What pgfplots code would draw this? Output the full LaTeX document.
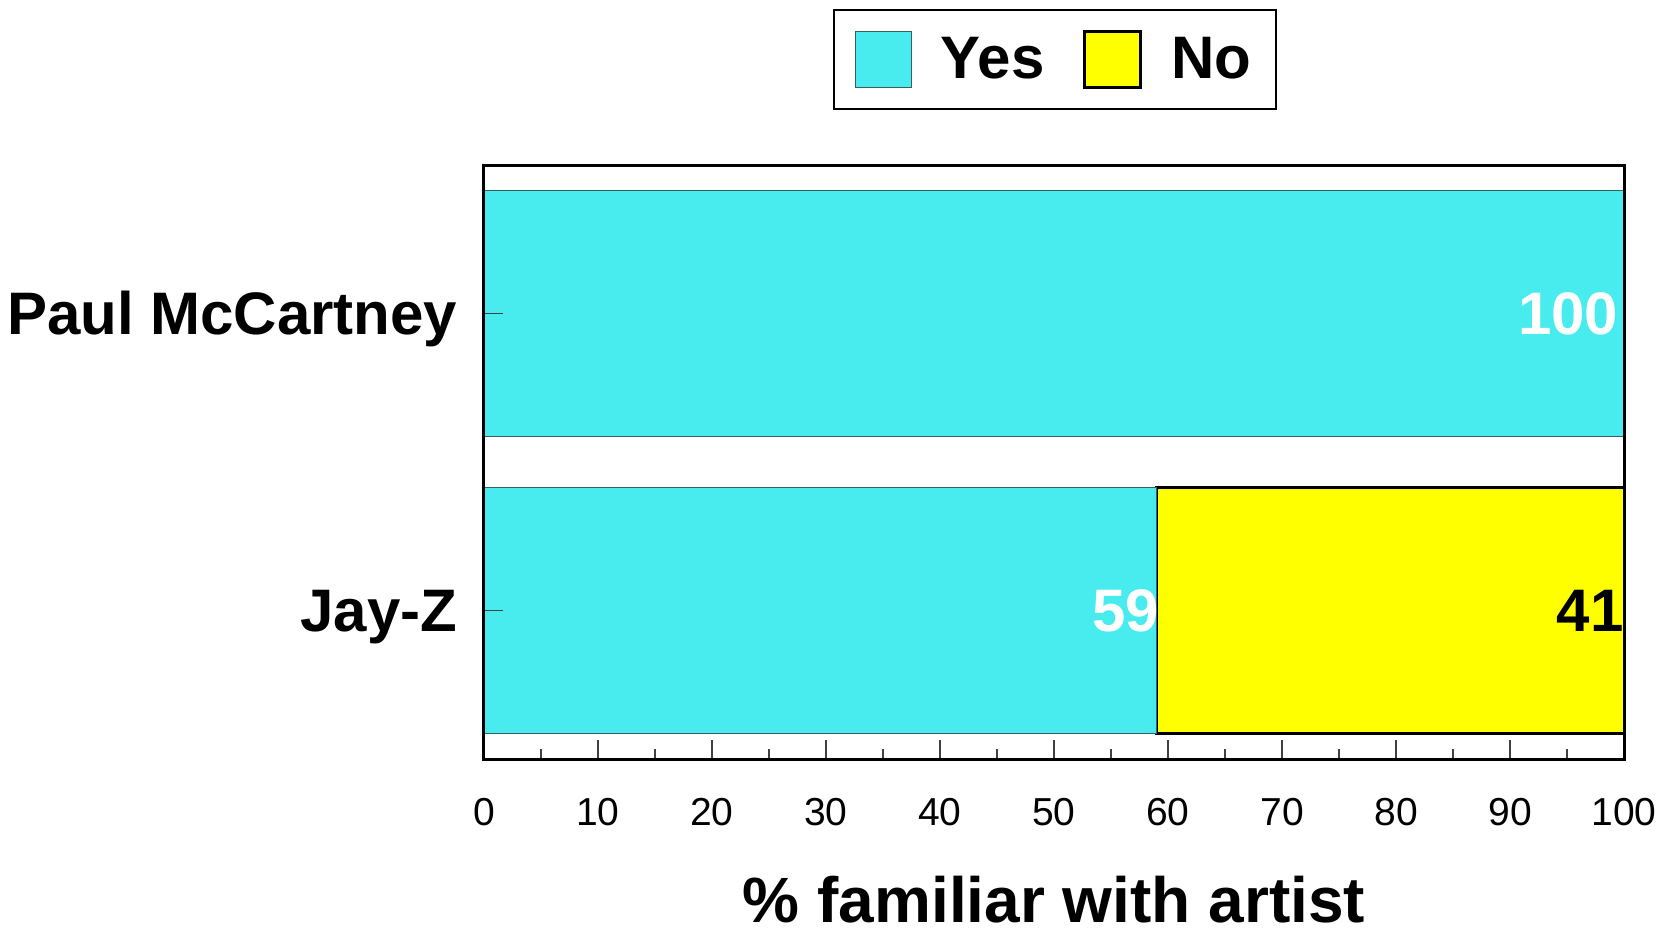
\documentclass[border=0pt]{standalone}
\usepackage{fontspec}
\setmainfont{Liberation Sans}
\usepackage{pgfplots}
\pgfplotsset{compat=1.18}

\definecolor{barcyan}{RGB}{72,235,238}
\definecolor{baredge}{RGB}{55,95,95}
\definecolor{baryellow}{RGB}{255,255,0}

\pgfplotsset{
  common frame/.style={
    at={(0,0)}, anchor=south west,
    scale only axis,
    width=570pt, height=297pt,
    xmin=0, xmax=100,
    ymin=-0.5, ymax=1.5,
  },
}

\begin{document}
\begin{tikzpicture}
\begin{axis}[
  common frame,
  xbar stacked,
  bar width=0.83,
  axis on top,
  axis line style={black, line width=1.5pt},
  xtick={0,10,...,100},
  minor x tick num=1,
  xtick pos=bottom,
  ytick={0,1},
  yticklabels={Jay-Z,{Paul McCartney\hspace{3.5pt}}},
  ytick pos=left,
  tick align=inside,
  major tick length=9.5pt,
  minor tick length=5pt,
  every tick/.style={black!75, line width=0.7pt},
  /pgf/number format/assume math mode=true,
  xticklabel style={font=\fontsize{19.5}{23}\selectfont, yshift=-16.2pt},
  yticklabel style={font=\bfseries\fontsize{30}{36}\selectfont, anchor=base east, yshift=-10.7pt, xshift=-9.8pt},
  xlabel={\% familiar with artist},
  xlabel style={font=\bfseries\fontsize{32}{38}\selectfont, at={(axis description cs:0.5,0)}, anchor=base, yshift=-81.5pt, text depth=0pt},
  legend columns=2,
  legend style={at={(0.5,1)}, anchor=south, yshift=27.5pt, xshift=0.5pt,
    draw=black, line width=1pt,
    font=\bfseries\fontsize{30}{36}\selectfont,
    inner xsep=10.5pt, inner ysep=9.9pt,
    /tikz/every odd column/.append style={column sep=12.5pt},
    /tikz/every even column/.append style={column sep=17.5pt}},
  legend image code/.code={\draw[#1] (0pt,-14pt) rectangle (28pt,14pt);},
]
% familiar: Jay-Z first, then Paul McCartney
\addplot[fill=barcyan, draw=baredge, line width=0.7pt]
  coordinates {(59,0) (100,1)};
\addlegendentry{Yes}
% not familiar: Jay-Z only
\addplot[fill=baryellow, draw=black, line width=1.5pt]
  coordinates {(41,0)};
\addlegendentry{No}
\end{axis}

% value labels at the end of each bar segment
\begin{axis}[
  common frame,
  hide axis,
  clip=false,
  nodes near coords,
  point meta=explicit,
  /pgf/number format/assume math mode=true,
  every node near coord/.append style={font=\bfseries\fontsize{30}{36}\selectfont, anchor=east, inner sep=0pt},
]
\addplot[draw=none, mark=none,
  every node near coord/.append style={text=white, xshift=-2.75pt}]
  coordinates {(100,1) [100]};
\addplot[draw=none, mark=none,
  every node near coord/.append style={text=white, xshift=1.5pt}]
  coordinates {(59,0) [59]};
\addplot[draw=none, mark=none,
  every node near coord/.append style={text=black, xshift=0pt}]
  coordinates {(100,0) [41]};
\end{axis}
\pgfresetboundingbox
\path[use as bounding box] (-242pt,-84pt) rectangle (592.5pt,379.5pt);
\end{tikzpicture}
\end{document}
